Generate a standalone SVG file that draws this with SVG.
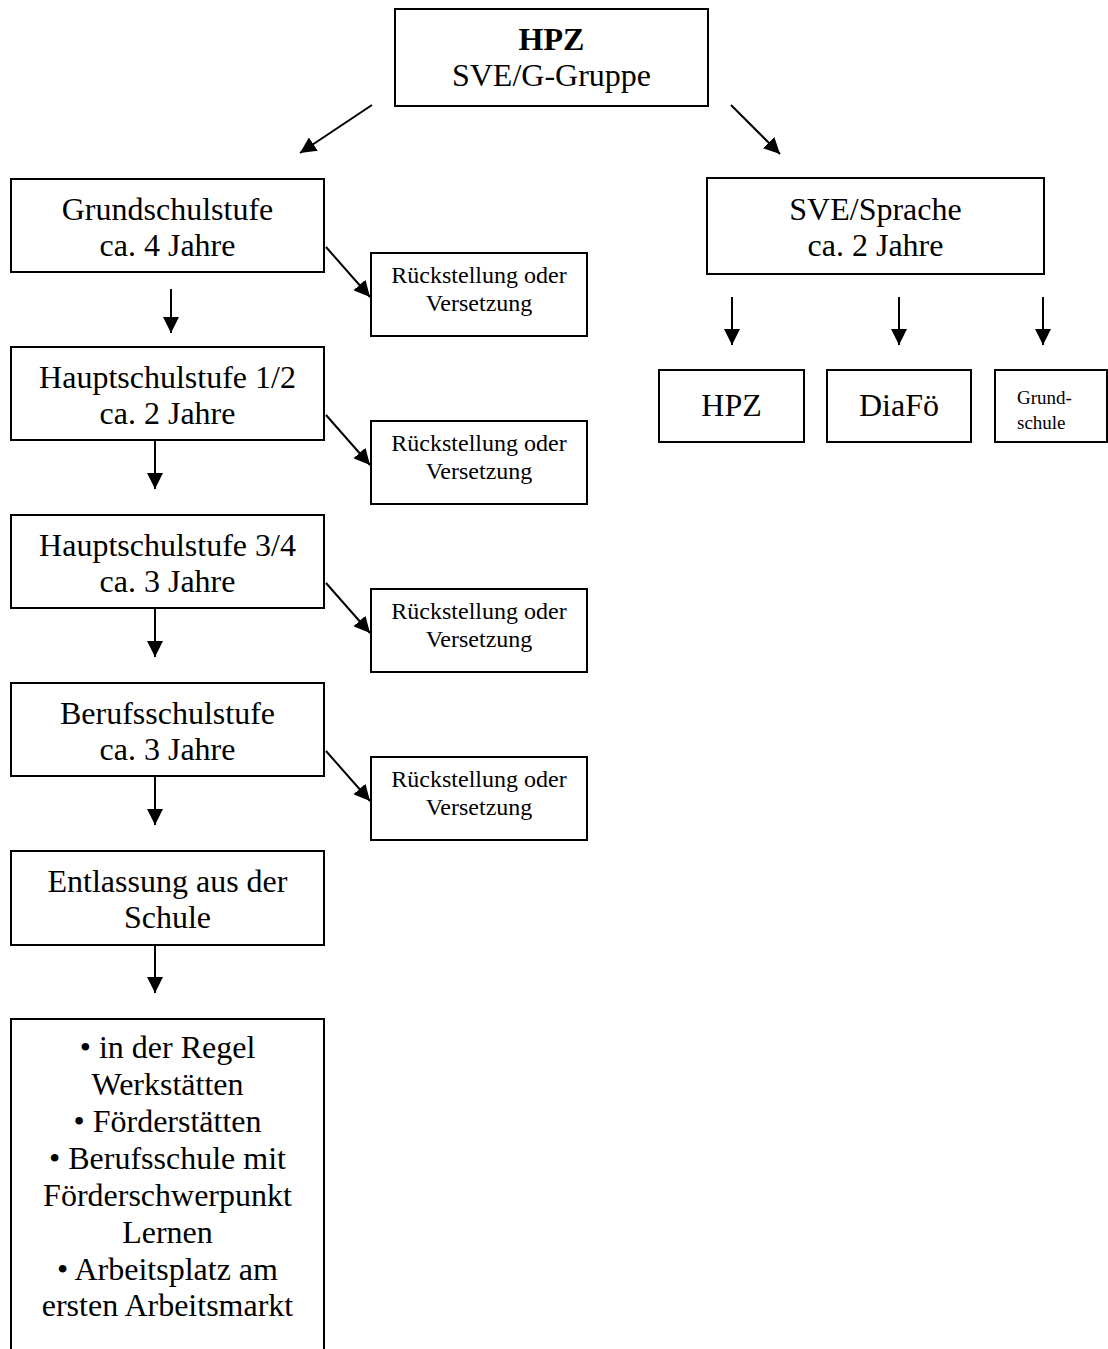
<svg xmlns="http://www.w3.org/2000/svg" width="1108" height="1349" viewBox="0 0 1108 1349">
<style>
  .box { fill: #fff; stroke: #000; stroke-width: 2; }
  .t { font-family: "Liberation Serif", "Times New Roman", serif; font-size: 32px; fill: #000; text-anchor: middle; }
  .s { font-family: "Liberation Serif", "Times New Roman", serif; font-size: 24px; fill: #000; text-anchor: middle; }
  .g { font-family: "Liberation Serif", "Times New Roman", serif; font-size: 19px; fill: #000; }
  .b { font-weight: bold; }
  .c { stroke: #000; stroke-width: 2; fill: none; marker-end: url(#ah); }
</style>
<defs>
  <marker id="ah" markerUnits="userSpaceOnUse" markerWidth="16" markerHeight="16" refX="16" refY="8" orient="auto">
    <path d="M0,0 L16,8 L0,16 z" fill="#000"/>
  </marker>
</defs>
<rect width="1108" height="1349" fill="#fff"/>

<g id="connectors">
  <line class="c" x1="372" y1="105" x2="300" y2="153"/>
  <line class="c" x1="731" y1="105" x2="780" y2="154"/>
  <line class="c" x1="171" y1="289" x2="171" y2="333"/>
  <line class="c" x1="155" y1="441" x2="155" y2="489"/>
  <line class="c" x1="155" y1="609" x2="155" y2="657"/>
  <line class="c" x1="155" y1="777" x2="155" y2="825"/>
  <line class="c" x1="155" y1="946" x2="155" y2="993"/>
  <line class="c" x1="326" y1="247" x2="370" y2="297"/>
  <line class="c" x1="326" y1="415" x2="370" y2="465"/>
  <line class="c" x1="326" y1="583" x2="370" y2="633"/>
  <line class="c" x1="326" y1="751" x2="370" y2="801"/>
  <line class="c" x1="732" y1="297" x2="732" y2="345"/>
  <line class="c" x1="899" y1="297" x2="899" y2="345"/>
  <line class="c" x1="1043" y1="297" x2="1043" y2="345"/>
</g>

<g id="hpz-top">
  <rect class="box" x="395" y="9" width="313" height="97"/>
  <text class="t b" x="551.5" y="50">HPZ</text>
  <text class="t" x="551.5" y="86">SVE/G-Gruppe</text>
</g>

<g id="grundschulstufe">
  <rect class="box" x="11" y="179" width="313" height="93"/>
  <text class="t" x="167.5" y="220">Grundschulstufe</text>
  <text class="t" x="167.5" y="256">ca. 4 Jahre</text>
</g>
<g id="hauptschulstufe12">
  <rect class="box" x="11" y="347" width="313" height="93"/>
  <text class="t" x="167.5" y="388">Hauptschulstufe 1/2</text>
  <text class="t" x="167.5" y="424">ca. 2 Jahre</text>
</g>
<g id="hauptschulstufe34">
  <rect class="box" x="11" y="515" width="313" height="93"/>
  <text class="t" x="167.5" y="556">Hauptschulstufe 3/4</text>
  <text class="t" x="167.5" y="592">ca. 3 Jahre</text>
</g>
<g id="berufsschulstufe">
  <rect class="box" x="11" y="683" width="313" height="93"/>
  <text class="t" x="167.5" y="724">Berufsschulstufe</text>
  <text class="t" x="167.5" y="760">ca. 3 Jahre</text>
</g>
<g id="entlassung">
  <rect class="box" x="11" y="851" width="313" height="94"/>
  <text class="t" x="167.5" y="892">Entlassung aus der</text>
  <text class="t" x="167.5" y="928">Schule</text>
</g>
<g id="nachschule">
  <path class="box" d="M11,1349 L11,1019 L324,1019 L324,1349"/>
  <text class="t" x="167.5" y="1058">• in der Regel</text>
  <text class="t" x="167.5" y="1095">Werkstätten</text>
  <text class="t" x="167.5" y="1132">• Förderstätten</text>
  <text class="t" x="167.5" y="1169">• Berufsschule mit</text>
  <text class="t" x="167.5" y="1206">Förderschwerpunkt</text>
  <text class="t" x="167.5" y="1243">Lernen</text>
  <text class="t" x="167.5" y="1280">• Arbeitsplatz am</text>
  <text class="t" x="167.5" y="1316">ersten Arbeitsmarkt</text>
</g>

<g id="rueck1">
  <rect class="box" x="371" y="253" width="216" height="83"/>
  <text class="s" x="479" y="283">Rückstellung oder</text>
  <text class="s" x="479" y="311">Versetzung</text>
</g>
<g id="rueck2">
  <rect class="box" x="371" y="421" width="216" height="83"/>
  <text class="s" x="479" y="451">Rückstellung oder</text>
  <text class="s" x="479" y="479">Versetzung</text>
</g>
<g id="rueck3">
  <rect class="box" x="371" y="589" width="216" height="83"/>
  <text class="s" x="479" y="619">Rückstellung oder</text>
  <text class="s" x="479" y="647">Versetzung</text>
</g>
<g id="rueck4">
  <rect class="box" x="371" y="757" width="216" height="83"/>
  <text class="s" x="479" y="787">Rückstellung oder</text>
  <text class="s" x="479" y="815">Versetzung</text>
</g>

<g id="sve-sprache">
  <rect class="box" x="707" y="178" width="337" height="96"/>
  <text class="t" x="875.5" y="220">SVE/Sprache</text>
  <text class="t" x="875.5" y="256">ca. 2 Jahre</text>
</g>
<g id="hpz">
  <rect class="box" x="659" y="370" width="145" height="72"/>
  <text class="t" x="731.5" y="416">HPZ</text>
</g>
<g id="diafoe">
  <rect class="box" x="827" y="370" width="144" height="72"/>
  <text class="t" x="899" y="416">DiaFö</text>
</g>
<g id="grundschule">
  <rect class="box" x="995" y="370" width="112" height="72"/>
  <text class="g" x="1017" y="404">Grund-</text>
  <text class="g" x="1017" y="429">schule</text>
</g>
</svg>
